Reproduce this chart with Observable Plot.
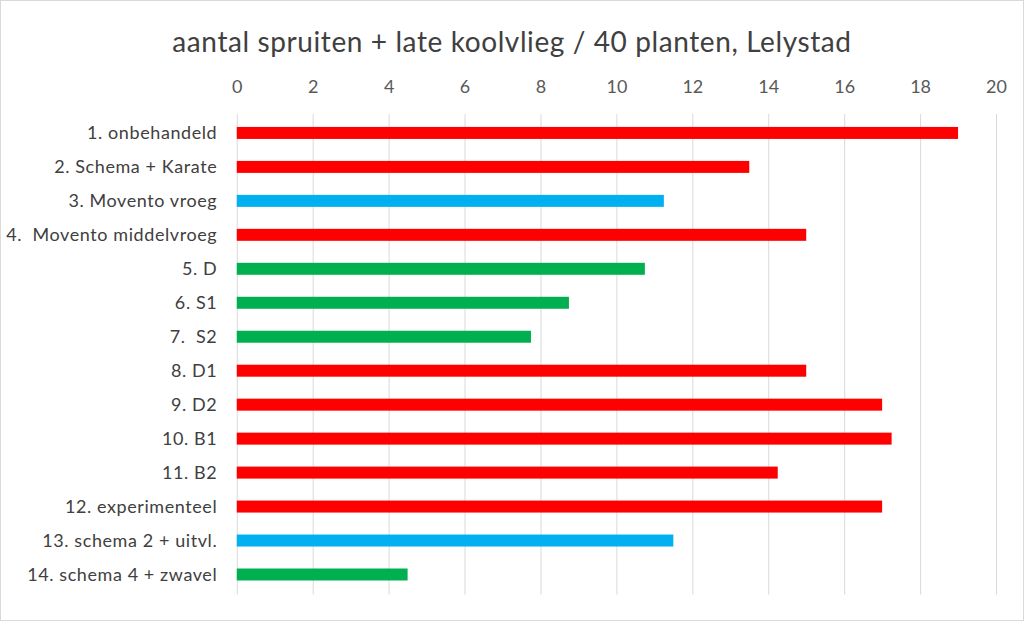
<!DOCTYPE html>
<html>
<head>
<meta charset="utf-8">
<script src="https://cdn.jsdelivr.net/npm/d3@7"></script>
<script src="https://cdn.jsdelivr.net/npm/@observablehq/plot@0.6"></script>
<style>
  html, body { margin: 0; padding: 0; background: #fff; }
  #wrap { position: relative; width: 1024px; height: 621px; box-sizing: border-box; border: 1px solid #d9d9d9; overflow: hidden; font-family: Lato, "Open Sans", sans-serif; }
  #title { position: absolute; left: 0; top: 0; width: 100%; height: 70px; text-align: center; font-size: 28px; letter-spacing: 0.6px; line-height: 80px; color: #404040; }
  #chart { position: absolute; left: -1px; top: 69px; }
  #chart svg text { white-space: pre; }
  #chart svg g[aria-label="y-axis tick label"] text { letter-spacing: 0.6px; }
</style>
</head>
<body>
<div id="wrap">
  <div id="title">aantal spruiten + late koolvlieg / 40 planten, Lelystad</div>
  <div id="chart"></div>
</div>
<script>
const categories = [
  "1. onbehandeld",
  "2. Schema + Karate",
  "3. Movento vroeg",
  "4.  Movento middelvroeg",
  "5. D",
  "6. S1",
  "7.  S2",
  "8. D1",
  "9. D2",
  "10. B1",
  "11. B2",
  "12. experimenteel",
  "13. schema 2 + uitvl.",
  "14. schema 4 + zwavel"
];
const values = [19, 13.5, 11.25, 15, 10.75, 8.75, 7.75, 15, 17, 17.25, 14.25, 17, 11.5, 4.5];
const groups = ["A", "A", "B", "A", "C", "C", "C", "A", "A", "A", "A", "A", "B", "C"];
const xTicks = [0, 2, 4, 6, 8, 10, 12, 14, 16, 18, 20];

const data = categories.map((c, i) => ({name: c, value: values[i], group: groups[i]}));

const chart = Plot.plot({
  width: 1024,
  height: 551,
  marginLeft: 237,
  marginRight: 27,
  marginTop: 44,
  marginBottom: 26,
  style: {fontFamily: "Lato, 'Open Sans', sans-serif", background: "transparent"},
  x: {domain: [0, 20], label: null},
  y: {domain: categories, paddingInner: 0.636, paddingOuter: 0.318, label: null},
  color: {domain: ["A", "B", "C"], range: ["#FF0000", "#00B0F0", "#00B050"]},
  marks: [
    Plot.gridX(xTicks, {stroke: "#d9d9d9", strokeOpacity: 1, strokeWidth: 1}),
    Plot.barX(data, {x: "value", y: "name", fill: "group"}),
    Plot.axisX(xTicks, {anchor: "top", tickSize: 0, tickPadding: 21, fontSize: 18, fill: "#595959", label: null}),
    Plot.axisY({tickSize: 0, tickPadding: 20, fontSize: 18, fill: "#404040", label: null})
  ]
});
document.getElementById("chart").appendChild(chart);
</script>
</body>
</html>
